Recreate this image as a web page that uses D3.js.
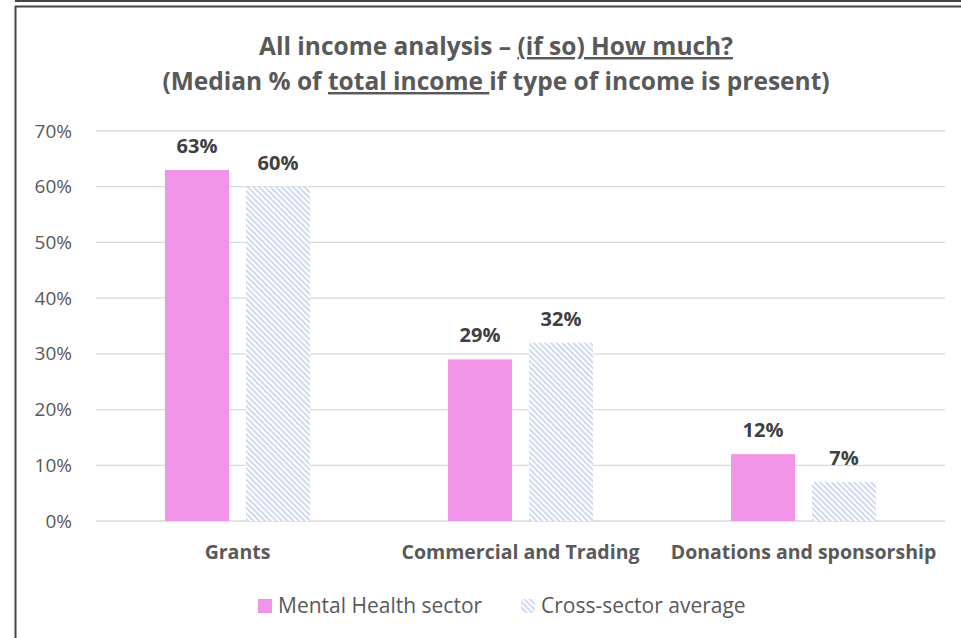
<!DOCTYPE html>
<html>
<head>
<meta charset="utf-8">
<script src="https://cdn.jsdelivr.net/npm/d3@7"></script>
<style>
  body { margin: 0; background: #fff; }
  svg { display: block; font-family: "Open Sans", sans-serif; }
</style>
</head>
<body>
<svg id="chart"></svg>
<script>
// данные графика
const categories = ["Grants", "Commercial and Trading", "Donations and sponsorship"];
const seriesNames = ["Mental Health sector", "Cross-sector average"];
const mentalHealth = [63, 29, 12];
const crossSector = [60, 32, 7];
const yTicks = [0, 10, 20, 30, 40, 50, 60, 70];

const width = 961;
const height = 638;
const plot = { left: 96, right: 945, top: 131, bottom: 521 };

let svg = d3.select("#chart").attr("width", width).attr("height", height);

// штриховка для второй серии
let defs = svg.append("defs");
let pat = defs.append("pattern")
    .attr("id", "hatch")
    .attr("patternUnits", "userSpaceOnUse")
    .attr("width", 4).attr("height", 4)
    .attr("patternTransform", "rotate(45)");
pat.append("rect").attr("width", 4).attr("height", 4).attr("fill", "#fff");
pat.append("rect").attr("width", 4).attr("height", 2).attr("fill", "#cfdaf0");

// рамка
svg.append("line").attr("x1", 15).attr("x2", width).attr("y1", 1).attr("y2", 1)
    .attr("stroke", "#444").attr("stroke-width", 2);
svg.append("line").attr("x1", 15).attr("x2", width).attr("y1", 6.5).attr("y2", 6.5)
    .attr("stroke", "#444").attr("stroke-width", 2);
svg.append("line").attr("x1", 15.5).attr("x2", 15.5).attr("y1", 6).attr("y2", height)
    .attr("stroke", "#444").attr("stroke-width", 2);

// заголовок
let t1 = svg.append("text").attr("x", 496).attr("y", 55)
    .attr("text-anchor", "middle").attr("font-size", 24.5).attr("font-weight", "bold").attr("fill", "#595959");
t1.append("tspan").text("All income analysis \u2013 ");
t1.append("tspan").attr("text-decoration", "underline").text("(if so) How much?");

let t2 = svg.append("text").attr("x", 496).attr("y", 90)
    .attr("text-anchor", "middle").attr("font-size", 24.5).attr("font-weight", "bold").attr("fill", "#595959")
    .attr("xml:space", "preserve");
t2.append("tspan").text("(Median % of ");
t2.append("tspan").attr("text-decoration", "underline").text("total income ");
t2.append("tspan").text("if type of income is present)");

let scaleX = d3.scaleBand().domain(categories).range([plot.left, plot.right]);
let scaleY = d3.scaleLinear().domain([0, 70]).range([plot.bottom, plot.top]);

// сетка
svg.append("g").selectAll("line").data(yTicks).enter().append("line")
    .attr("x1", plot.left).attr("x2", plot.right)
    .attr("y1", d => scaleY(d)).attr("y2", d => scaleY(d))
    .attr("stroke", "#d9d9d9").attr("stroke-width", 1.3);

let axisY = d3.axisLeft(scaleY).tickValues(yTicks).tickFormat(d => d + "%").tickSize(0).tickPadding(24);
let gY = svg.append("g").attr("transform", `translate(${plot.left}, 0)`).call(axisY);
gY.select(".domain").remove();
gY.selectAll("text").attr("font-size", 19).attr("fill", "#595959").attr("font-family", "Open Sans");

let axisX = d3.axisBottom(scaleX).tickSize(0).tickPadding(24);
let gX = svg.append("g").attr("transform", `translate(0, ${plot.bottom})`).call(axisX);
gX.select(".domain").remove();
gX.selectAll("text").attr("font-size", 19.5).attr("font-weight", "bold").attr("fill", "#595959").attr("font-family", "Open Sans");

// столбцы
const barW = 64, gap = 17;
let series = [
    { values: mentalHealth, fill: "#f194e8", off: -(barW + gap) / 2 },
    { values: crossSector, fill: "url(#hatch)", off: (barW + gap) / 2 }
];
series.forEach(s => {
    let g = svg.append("g");
    g.selectAll("rect").data(s.values).enter().append("rect")
        .attr("x", (d, i) => scaleX(categories[i]) + scaleX.bandwidth() / 2 + s.off - barW / 2)
        .attr("y", d => scaleY(d))
        .attr("width", barW)
        .attr("height", d => scaleY(0) - scaleY(d))
        .attr("fill", s.fill);
    g.selectAll("text").data(s.values).enter().append("text")
        .attr("x", (d, i) => scaleX(categories[i]) + scaleX.bandwidth() / 2 + s.off)
        .attr("y", d => scaleY(d) - 17)
        .attr("text-anchor", "middle").attr("font-size", 20).attr("font-weight", "bold").attr("fill", "#404040")
        .text(d => d + "%");
});

// легенда
let legend = svg.append("g");
let lx = [258, 521];
seriesNames.forEach((name, i) => {
    legend.append("rect").attr("x", lx[i]).attr("y", 599).attr("width", 14).attr("height", 14)
        .attr("fill", series[i].fill);
    legend.append("text").attr("x", lx[i] + 20).attr("y", 613)
        .attr("font-size", 21).attr("fill", "#595959").text(name);
});
</script>
</body>
</html>
